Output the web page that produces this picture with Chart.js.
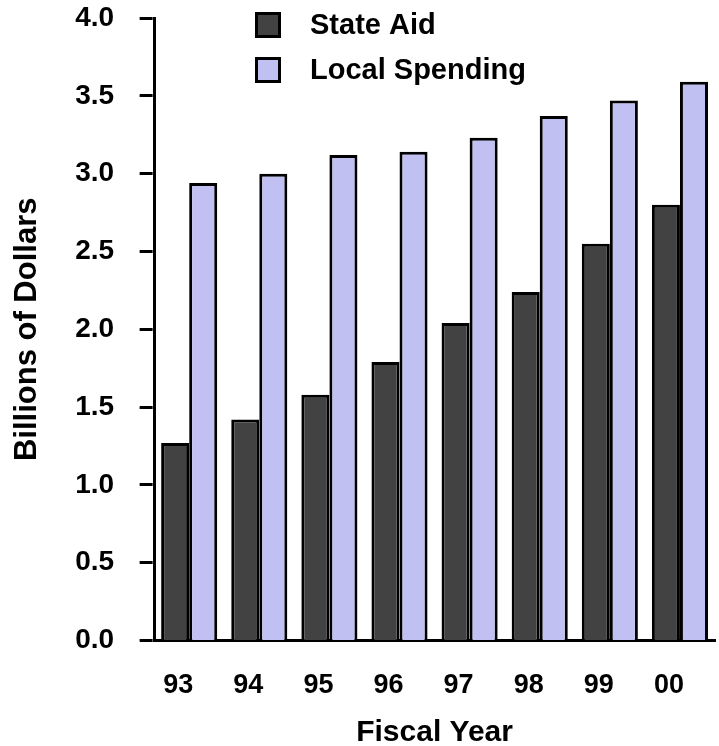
<!DOCTYPE html>
<html>
<head>
<meta charset="utf-8">
<script src="https://cdn.jsdelivr.net/npm/chart.js@4"></script>
<style>
  html, body { margin: 0; padding: 0; background: #fff; }
  #wrap { width: 719px; height: 746px; }
</style>
</head>
<body>
<div id="wrap"><canvas id="fundChart" width="719" height="746"></canvas></div>
<script>
// Chart data
const years = ['93', '94', '95', '96', '97', '98', '99', '00'];
const stateAid = [1.27, 1.42, 1.58, 1.79, 2.04, 2.24, 2.55, 2.80];
const localSpending = [2.94, 3.00, 3.12, 3.14, 3.23, 3.37, 3.47, 3.59];

const fontFamily = "'Liberation Sans', Arial, Helvetica, sans-serif";

// Legend drawn in the upper part of the plot, stacked vertically
const stackedLegend = {
  id: 'stackedLegend',
  afterDraw(chart) {
    const ctx = chart.ctx;
    const boxX = 255, boxSize = 26, rowGap = 45, startY = 12;
    ctx.save();
    chart.data.datasets.forEach((ds, i) => {
      const y = startY + i * rowGap;
      ctx.fillStyle = ds.backgroundColor;
      ctx.fillRect(boxX, y, boxSize, boxSize);
      ctx.lineWidth = 3;
      ctx.strokeStyle = '#000';
      ctx.strokeRect(boxX + 1.5, y + 1.5, boxSize - 3, boxSize - 3);
      ctx.fillStyle = '#000';
      ctx.font = 'bold 29px ' + fontFamily;
      ctx.textBaseline = 'middle';
      ctx.textAlign = 'left';
      ctx.fillText(ds.label, 310, y + boxSize / 2 + 1);
    });
    ctx.restore();
  }
};

const ctx = document.getElementById('fundChart').getContext('2d');
new Chart(ctx, {
  type: 'bar',
  data: {
    labels: years,
    datasets: [{
      label: 'State Aid',
      data: stateAid,
      backgroundColor: '#424242',
      borderColor: '#000',
      borderWidth: 3
    }, {
      label: 'Local Spending',
      data: localSpending,
      backgroundColor: '#c0c0f2',
      borderColor: '#000',
      borderWidth: 3
    }]
  },
  options: {
    responsive: false,
    animation: false,
    layout: { padding: { top: 18, right: 4, left: 0, bottom: -5 } },
    datasets: {
      bar: { categoryPercentage: 0.8, barPercentage: 1.0 }
    },
    plugins: {
      legend: { display: false },
      tooltip: { enabled: false }
    },
    scales: {
      x: {
        // invisible tick marks only make room between axis and labels
        grid: { display: false, drawTicks: true, tickLength: 29 },
        border: { display: true, color: '#000', width: 3 },
        ticks: {
          color: '#000',
          padding: 0,
          labelOffset: -11,
          font: { family: fontFamily, size: 27, weight: 'bold' }
        },
        title: {
          display: true,
          text: 'Fiscal Year',
          color: '#000',
          padding: { top: 13, bottom: 0 },
          font: { family: fontFamily, size: 30, weight: 'bold' }
        }
      },
      y: {
        min: 0,
        max: 4,
        grid: {
          drawOnChartArea: false,
          drawTicks: true,
          tickLength: 40,
          tickColor: '#000',
          tickWidth: 3,
          // only the 13px next to the axis is visible
          tickBorderDash: [13, 25.5],
          tickBorderDashOffset: 13
        },
        border: { display: true, color: '#000', width: 3 },
        ticks: {
          stepSize: 0.5,
          color: '#000',
          padding: 0,
          font: { family: fontFamily, size: 28, weight: 'bold' },
          callback: (v) => v.toFixed(1)
        },
        title: {
          display: true,
          text: 'Billions of Dollars',
          color: '#000',
          padding: { top: 9, bottom: 29 },
          font: { family: fontFamily, size: 31, weight: 'bold' }
        }
      }
    }
  },
  plugins: [stackedLegend]
});
</script>
</body>
</html>
